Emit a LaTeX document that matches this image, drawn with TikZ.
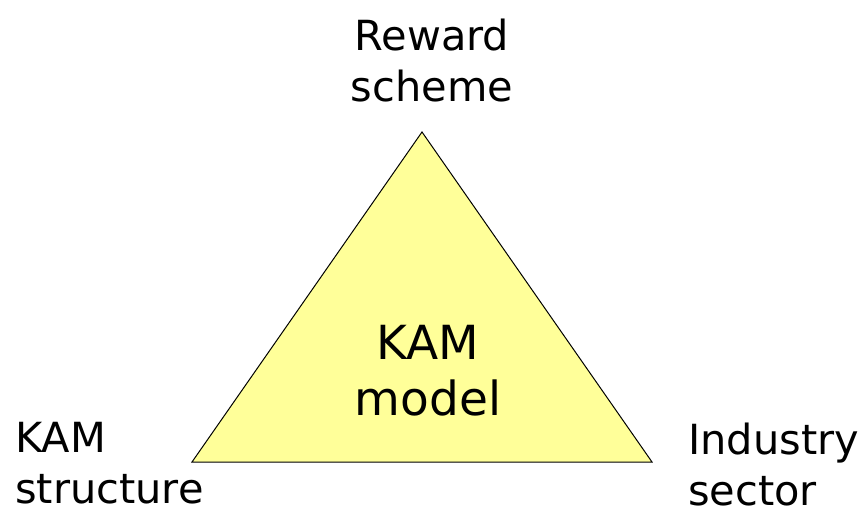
\documentclass[tikz,border=0pt]{standalone}
\usepackage{fontspec}
\setmainfont{DejaVu Sans}
\definecolor{kamyellow}{RGB}{255,255,153}
\begin{document}
\begin{tikzpicture}[x=1pt,y=1pt,
    corner/.style={align=left, inner sep=0pt, font=\fontsize{41.5}{51}\selectfont},
    centre/.style={align=center, inner sep=0pt, font=\fontsize{47}{56}\selectfont}]
    \useasboundingbox (0,0) rectangle (866,511);

    \coordinate (top) at (422,379);
    \coordinate (left) at (192,49);
    \coordinate (right) at (652,49);

    \draw[fill=kamyellow, line width=1pt, line join=miter] (top) -- (left) -- (right) -- cycle;

    \node[corner, align=center] (reward) at (432,450) {Reward\\scheme};
    \node[centre] (model) at (428,140) {KAM\\model};
    \node[corner, anchor=west] (structure) at (15,48) {KAM\\structure};
    \node[corner, anchor=west] (industry) at (688,46) {Industry\\sector};

\end{tikzpicture}
\end{document}
